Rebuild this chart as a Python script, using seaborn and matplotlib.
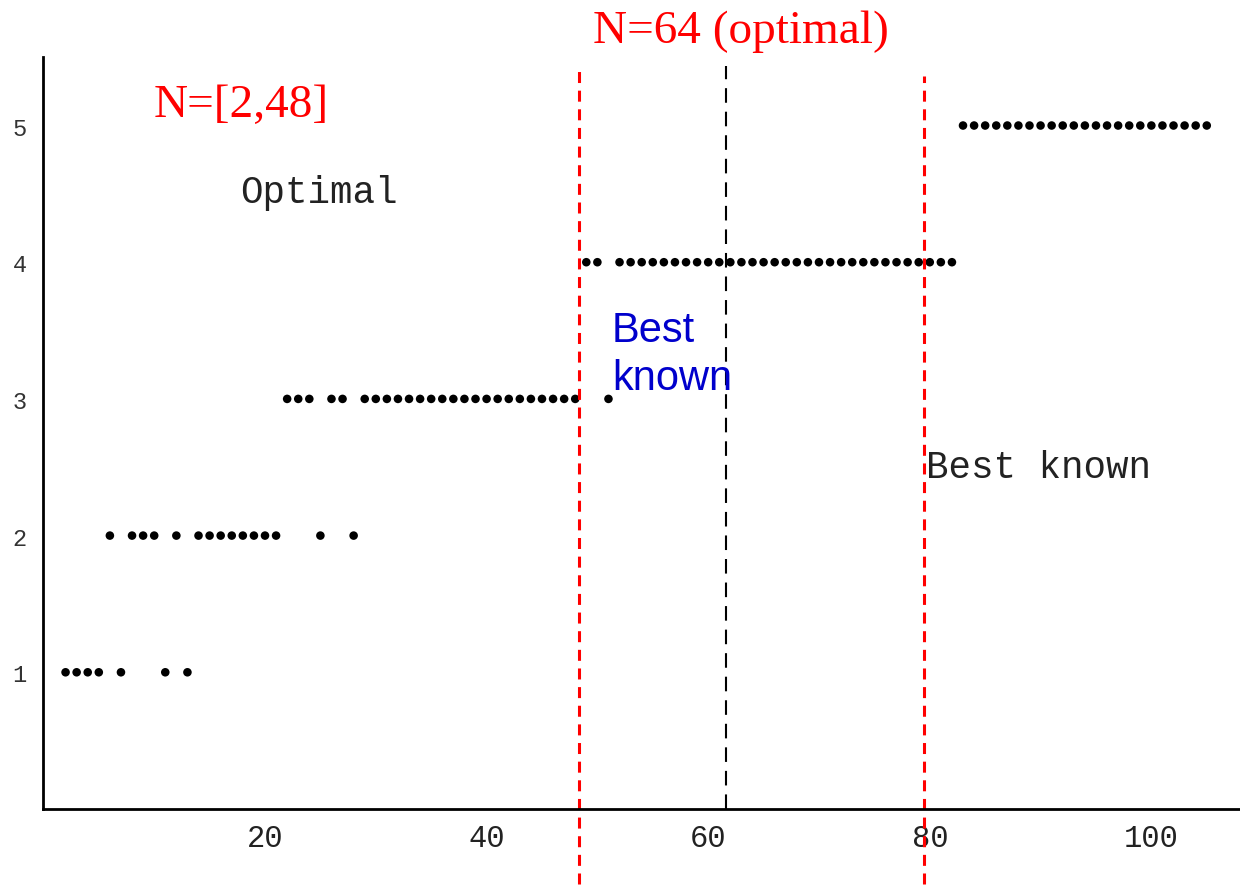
import matplotlib
matplotlib.use("Agg")

import matplotlib.pyplot as plt
import pandas as pd
import seaborn as sns

# N values grouped by the level they reach
n_level1 = [2, 3, 4, 5, 7, 11, 13]
n_level2 = [6, 8, 9, 10, 12, 14, 15, 16, 17, 18, 19, 20, 21, 25, 28]
n_level3 = [22, 23, 24, 26, 27, 29, 30, 31, 32, 33, 34, 35, 36, 37, 38, 39,
            40, 41, 42, 43, 44, 45, 46, 47, 48, 51]
n_level4 = [49, 50, 52, 53, 54, 55, 56, 57, 58, 59, 60, 61, 62, 63, 64, 65,
            66, 67, 68, 69, 70, 71, 72, 73, 74, 75, 76, 77, 78, 79, 80, 81, 82]
n_level5 = [83, 84, 85, 86, 87, 88, 89, 90, 91, 92, 93, 94, 95, 96, 97, 98,
            99, 100, 101, 102, 103, 104, 105]
levels = [1, 2, 3, 4, 5]

x_ticks = [20, 40, 60, 80, 100]
y_ticks = [1, 2, 3, 4, 5]

# vertical markers
optimal_line = 61.6
red_lines = [48.3, 79.5]
red_tops = [0.984, 0.975]

rows = []
for lvl, ns in zip(levels, [n_level1, n_level2, n_level3, n_level4, n_level5]):
    for n in ns:
        rows.append({"N": n, "level": lvl})
df = pd.DataFrame(rows)

sns.set_style("white")
fig = plt.figure(figsize=(12.4, 8.95), dpi=100)
ax = fig.add_axes([0.035, 0.095, 0.965, 0.84])

sns.scatterplot(data=df, x="N", y="level", color="black", s=38,
                edgecolor="none", marker="o", ax=ax)

ax.set_xlim(0, 108)
ax.set_ylim(0, 5.5)
ax.set_xlabel("")
ax.set_ylabel("")
sns.despine(ax=ax)
for sp in ["left", "bottom"]:
    ax.spines[sp].set_color("black")
    ax.spines[sp].set_linewidth(2)

ax.set_xticks(x_ticks)
ax.set_xticks(range(5, 108, 5), minor=True)
ax.set_yticks(y_ticks)
ax.tick_params(axis="x", which="major", direction="in", length=7, width=1.2,
               pad=10, labelsize=22, labelcolor="#222222")
ax.tick_params(axis="x", which="minor", direction="in", length=5, width=1.2)
ax.tick_params(axis="y", which="major", direction="in", length=6, width=1.2,
               pad=12, labelsize=17, labelcolor="#333333")
for lab in ax.get_xticklabels() + ax.get_yticklabels():
    lab.set_family(["Liberation Mono", "DejaVu Sans Mono"])

ax.axvline(optimal_line, color="black", lw=1.5, ls=(0, (7, 4.3)), ymax=0.988)
for xv, top in zip(red_lines, red_tops):
    ax.axvline(xv, color="red", lw=2.2, ls=(0, (3.6, 2.5)),
               ymin=-0.1, ymax=top, clip_on=False)

mono = ["Liberation Mono", "DejaVu Sans Mono"]
serif = ["Liberation Serif", "DejaVu Serif"]
ax.text(17.8, 4.51, "Optimal", family=mono, fontsize=27, color="#222222",
        va="center")
ax.text(79.7, 2.50, "Best known", family=mono, fontsize=27, color="#222222",
        va="center")
ax.text(51.3, 3.33, "Best\nknown", family=["Liberation Sans", "DejaVu Sans"],
        fontsize=30, color="#0000cc", va="center", linespacing=1.25)
fig.text(0.124, 0.882, "N=[2,48]", family=serif, fontsize=34, color="red",
         va="center")
fig.text(0.478, 0.964, "N=64 (optimal)", family=serif, fontsize=34,
         color="red", va="center")

fig.savefig("out.png", dpi=100)
plt.close(fig)
